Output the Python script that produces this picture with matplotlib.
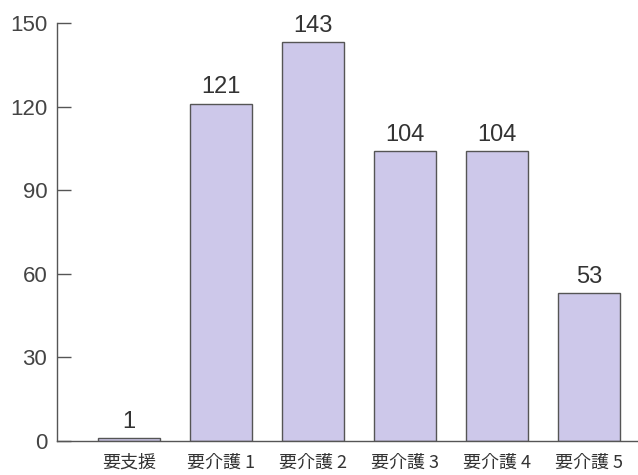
import matplotlib
matplotlib.use('Agg')
from matplotlib import pyplot as plt

categories = ['要支援', '要介護 1', '要介護 2', '要介護 3', '要介護 4', '要介護 5']
counts = [1, 121, 143, 104, 104, 53]
yticks = [0, 30, 60, 90, 120, 150]

plt.rcParams['font.family'] = ['Liberation Sans', 'Noto Sans CJK JP', 'DejaVu Sans']

fig = plt.figure(figsize=(6.38, 4.75), dpi=100)
ax = fig.add_axes([0.0893, 0.0716, 0.9107, 0.88])

x = range(len(categories))
bars = ax.bar(x, counts, width=0.67, color='#cdc8ea', edgecolor='#555555', linewidth=1.0)

for xi, v in zip(x, counts):
    ax.text(xi, v + 2, str(v), ha='center', va='bottom', fontsize=17, color='#333333')

ax.set_xlim(-0.78, 5.53)
ax.set_ylim(0, 150)
ax.set_yticks(yticks)
ax.set_yticklabels([str(t) for t in yticks], fontsize=16, color='#444444')
ax.tick_params(axis='y', direction='in', length=10, width=1, color='#555555', pad=7)
ax.set_xticks(list(x))
ax.set_xticklabels(categories, family=['Noto Sans CJK JP', 'DejaVu Sans'], fontsize=13, color='#333333')
ax.tick_params(axis='x', length=0, pad=9)

for s in ['top', 'right']:
    ax.spines[s].set_visible(False)
for s in ['left', 'bottom']:
    ax.spines[s].set_color('#555555')
    ax.spines[s].set_linewidth(1.0)

fig.savefig('out.png', dpi=100)
